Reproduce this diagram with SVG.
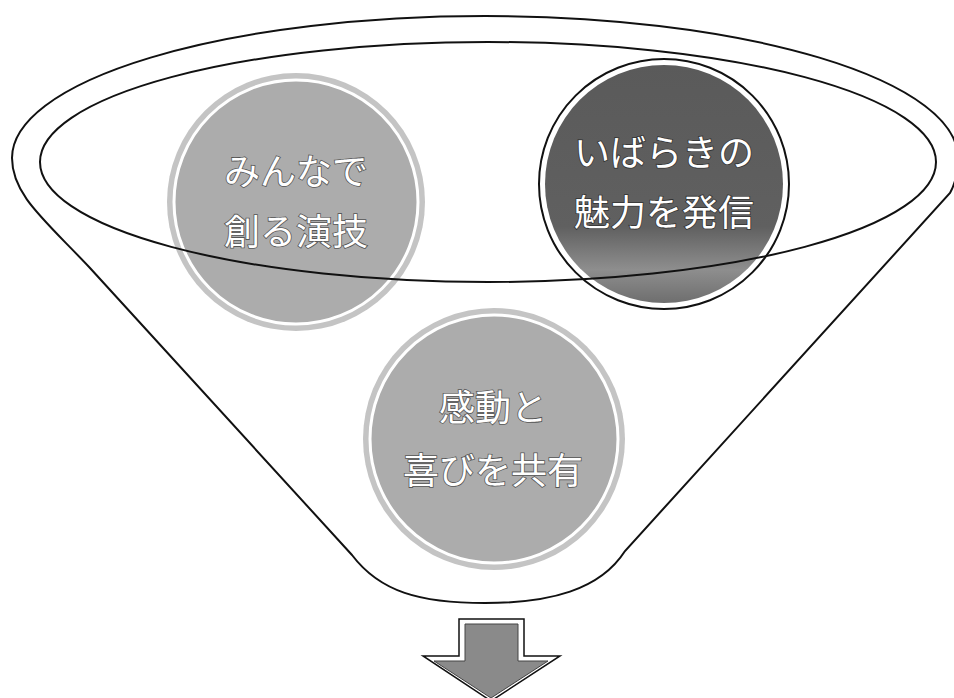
<svg xmlns="http://www.w3.org/2000/svg" width="954" height="698" viewBox="0 0 954 698">
<style>
.ln{fill:none;stroke:#111;stroke-width:2}
.lab{font-family:"Noto Sans CJK JP","Noto Sans",sans-serif;font-size:36px;fill:#fff;stroke:#555;stroke-width:1.6px;paint-order:stroke;text-anchor:middle}
.halo{fill:#c4c4c4}
.light{fill:#acacac;stroke:#fff;stroke-width:3}
</style>
<defs>
<linearGradient id="dk" x1="0" y1="0" x2="0" y2="1">
<stop offset="0" stop-color="#5a5a5a"/>
<stop offset="0.68" stop-color="#606060"/>
<stop offset="0.86" stop-color="#8e8e8e"/>
<stop offset="1" stop-color="#6e6e6e"/>
</linearGradient>
</defs>
<rect width="954" height="698" fill="#fff"/>
<g id="funnel">
<path class="ln" d="M352,555 L90,268 C45,220 12,195 12,158 A473 142 0 0 1 958,158 C958,172 956,182 950,193 L625,551 C600,590 550,603 485,603 C420,603 380,592 352,555 Z"/>
</g>
<g id="node-minnade">
<circle class="halo" cx="296" cy="202" r="129"/>
<circle class="light" cx="296" cy="202" r="122"/>
<text class="lab" x="296" y="185">みんなで</text>
<text class="lab" x="296" y="245">創る演技</text>
</g>
<g id="node-ibaraki">
<circle cx="664" cy="184" r="125" fill="#fff" stroke="#111" stroke-width="2"/>
<circle cx="664" cy="184" r="119" fill="url(#dk)"/>
<text class="lab" x="664" y="166" style="stroke:#333">いばらきの</text>
<text class="lab" x="664" y="226" style="stroke:#333">魅力を発信</text>
</g>
<g id="node-kandou">
<circle class="halo" cx="494" cy="439" r="131"/>
<circle class="light" cx="494" cy="439" r="124"/>
<text class="lab" x="493" y="421">感動と</text>
<text class="lab" x="493" y="484">喜びを共有</text>
</g>
<g id="connectors">
<ellipse class="ln" cx="488" cy="162" rx="448" ry="120"/>
</g>
<g id="arrow">
<path d="M459,619 H524 V656 H560 L491,701 L423,656 H459 Z" fill="#fff" stroke="#111" stroke-width="1.5"/>
<path d="M465,624 H518 V661 H548 L491,698 L434,661 H465 Z" fill="#8a8a8a" stroke="#444" stroke-width="1"/>
</g>
</svg>
